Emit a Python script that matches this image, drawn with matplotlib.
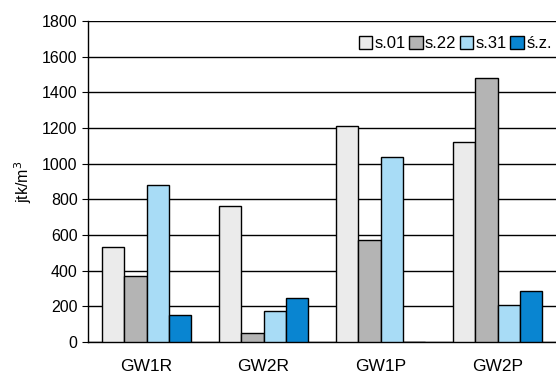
import numpy as np
import matplotlib.pyplot as plt

plt.rcParams['font.family'] = ['Liberation Sans', 'DejaVu Sans']

# dane
kategorie = ['GW1R', 'GW2R', 'GW1P', 'GW2P']
serie = ['s.01', 's.22', 's.31', 'ś.z.']
s01 = [530, 765, 1210, 1120]
s22 = [370, 50, 570, 1480]
s31 = [880, 175, 1040, 205]
sz = [150, 245, 0, 285]
kolory = ['#ebebeb', '#b4b4b4', '#a8dcf6', '#0985d1']

wartosci = [s01, s22, s31, sz]

fig = plt.figure(figsize=(5.56, 3.78), dpi=100)
ax = fig.add_axes([88 / 556, 36 / 378, 468 / 556, 321 / 378])

x = np.arange(len(kategorie))
szer = 0.19
for i, (nazwa, dane) in enumerate(zip(serie, wartosci)):
    poz = x + (i - 1.5) * szer
    ax.bar(poz, dane, width=szer, color=kolory[i], edgecolor='black',
           linewidth=1.0, label=nazwa, zorder=3)

ax.set_xlim(-0.5, len(kategorie) - 0.5)
ax.set_ylim(0, 1800)
ax.set_yticks(range(0, 1801, 200))
ax.set_xticks(x)
ax.set_xticklabels(kategorie)
ax.yaxis.grid(True, color='black', linewidth=1.0, zorder=0)
ax.tick_params(axis='y', labelsize=11.5, length=4, direction='out')
ax.tick_params(axis='x', labelsize=12.5, length=0, pad=12)
for s in ['right', 'top']:
    ax.spines[s].set_visible(False)
ax.spines['left'].set_linewidth(1.0)
ax.spines['bottom'].set_linewidth(1.0)
ax.set_ylabel('jtk/m$^3$', fontsize=11.5, labelpad=6)

ax.legend(loc='upper right', bbox_to_anchor=(1.012, 0.985), ncol=4, frameon=False,
          fontsize=12, handlelength=0.8, handleheight=0.8, handletextpad=0.15,
          columnspacing=0.2, borderaxespad=0.2)

plt.savefig('out.png', dpi=100)
